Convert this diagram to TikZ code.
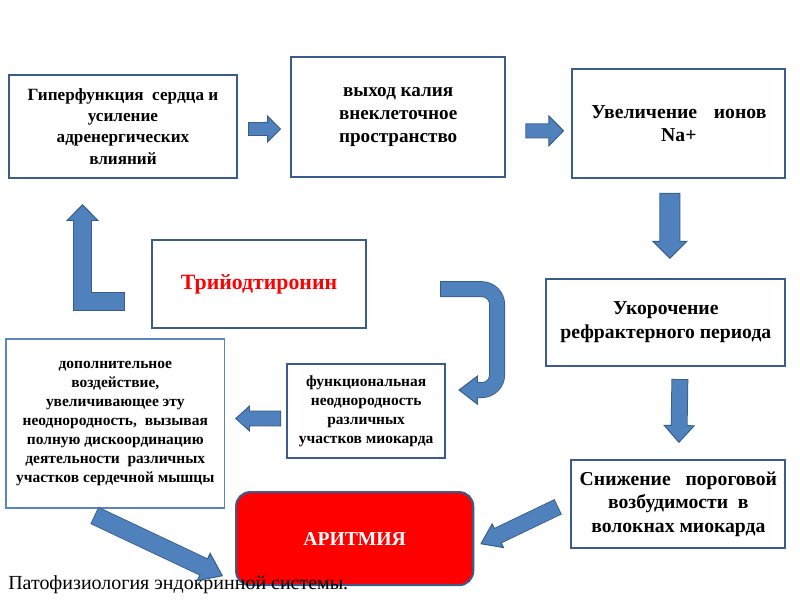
\documentclass[tikz,border=0pt]{standalone}
\usepackage{fontspec}
\setmainfont{Liberation Serif}
\usepackage{xcolor}
\usetikzlibrary{arrows.meta,positioning}
\definecolor{boxline}{HTML}{3B5B8C}
\definecolor{boxlinelight}{HTML}{5B85BE}
\definecolor{arrowfill}{HTML}{4F81BD}
\definecolor{arrowline}{HTML}{385D8A}
\definecolor{alarmred}{HTML}{FF0000}

\tikzset{
    stepbox/.style={draw=boxline, line width=1.5pt, align=center, inner sep=2pt, font=\bfseries\fontsize{14}{16.5}\selectfont},
    smalltext/.style={font=\bfseries\fontsize{11}{13.5}\selectfont},
    blockarrow/.style n args={3}{draw=arrowfill, line width=#1, line join=miter,
        -{Triangle[length=#3, width=#2, fill=arrowfill, color=arrowline, line width=0.7pt]},
        preaction={draw=arrowline, line width=#1+1.4pt, shorten >=#3-1pt, shorten <=-0.7pt, arrows=-},
        postaction={draw=arrowfill, line width=#1, shorten >=#3-1.5pt, arrows=-}}
}

\begin{document}
\begin{tikzpicture}[x=0.025cm, y=-0.025cm]
    \fill[white] (0,0) rectangle (800,600);
    \useasboundingbox (0,0) rectangle (800,600);

    \node[stepbox, font=\bfseries\fontsize{12.2}{15}\selectfont, minimum width=5.7cm, minimum height=2.575cm] (hyper) at (123,126.5) {Гиперфункция~ сердца и\\ усиление\\ адренергических\\ влияний};
    \node[stepbox, font=\bfseries\fontsize{13.6}{16.3}\selectfont, minimum width=5.35cm, minimum height=3cm, right=1.3cm of hyper, yshift=0.24cm] (potassium) {выход калия\\ внеклеточное\\ пространство};
    \node[stepbox, minimum width=5.325cm, minimum height=2.725cm, right=1.625cm of potassium, yshift=-0.16cm] (sodium) {Увеличение\hspace{0.6em} ионов\\ Na+};
    \node[stepbox, font=\bfseries\fontsize{14}{17}\selectfont, minimum width=5.975cm, minimum height=2.175cm, below=2.475cm of sodium.south east, anchor=north east] (refract) {Укорочение\\ рефрактерного периода};
    \node[stepbox, minimum width=5.35cm, minimum height=2.2cm, below=2.3cm of refract.south east, anchor=north east] (threshold) {Снижение\hspace{0.5em} пороговой\\ возбудимости~ в\\ волокнах миокарда};
    \node[stepbox, fill=alarmred, text=white, rounded corners=10pt, font=\bfseries\fontsize{14}{16}\selectfont, minimum width=5.925cm, minimum height=2.325cm, left=2.4cm of threshold, yshift=-0.8625cm] (arrhythmia) {АРИТМИЯ};
    \node[stepbox, smalltext, minimum width=3.95cm, minimum height=2.35cm, above=0.8cm of arrhythmia, xshift=0.2875cm] (uneven) {функциональная\\ неоднородность\\ различных\\ участков миокарда};
    \node[stepbox, smalltext, draw=boxlinelight, line width=1.1pt, minimum width=5.45cm, minimum height=4.225cm, left=1.525cm of uneven, yshift=-0.3125cm] (extra) {дополнительное\\ воздействие,\\ увеличивающее эту\\ неоднородность,~ вызывая\\ полную дискоординацию\\ деятельности~ различных\\ участков сердечной мышцы};
    \node[stepbox, text=alarmred, font=\bfseries\fontsize{15.5}{18}\selectfont, minimum width=5.35cm, minimum height=2.2cm, below=1.5cm of hyper.south west, anchor=north west, xshift=3.575cm] (hormone) {Трийодтиронин};
    \node[anchor=base west, inner sep=0pt, font=\fontsize{14.2}{16}\selectfont] (caption) at (8,589) {Патофизиология эндокринной системы.};

    % block arrows
    \draw[blockarrow={8.5pt}{19.8pt}{10pt}] ([shift={(11,2.5)}]hyper.east) -- ([shift={(-9,12)}]potassium.west);
    \draw[blockarrow={9.2pt}{22.7pt}{11.3pt}] ([shift={(20,14)}]potassium.east) -- ([shift={(-7,7.5)}]sodium.west);
    \draw[blockarrow={13.5pt}{25.5pt}{12.8pt}] ([shift={(-9,15)}]sodium.south) -- ([shift={(4,-19)}]refract.north);
    \draw[blockarrow={10.6pt}{22.7pt}{12.8pt}] ([shift={(14,13)}]refract.south) -- ([shift={(0.5,-16)}]threshold.north);
    \draw[blockarrow={9.9pt}{19.1pt}{10.6pt}] ([shift={(-6,7.5)}]uneven.west) -- ([shift={(10,-5)}]extra.east);
    \draw[blockarrow={12pt}{23.4pt}{12pt}] ([shift={(9,-36.5)}]extra.north) -| ([shift={(-40.5,25)}]hyper.south);
    \draw[blockarrow={9.9pt}{21.3pt}{14pt}, rounded corners=11pt] ([shift={(74,5)}]hormone.east) -- ++(56,0) -- ++(0,101) -- ([shift={(12,-21)}]uneven.east);
    \draw[blockarrow={12pt}{22.7pt}{15.6pt}] ([shift={(-20,7)}]extra.south) -- ([shift={(-12,37.5)}]arrhythmia.west);
    \draw[blockarrow={10.6pt}{19.9pt}{14.2pt}] ([shift={(-13,3)}]threshold.west) -- ([shift={(6,5.5)}]arrhythmia.east);
\end{tikzpicture}
\end{document}
